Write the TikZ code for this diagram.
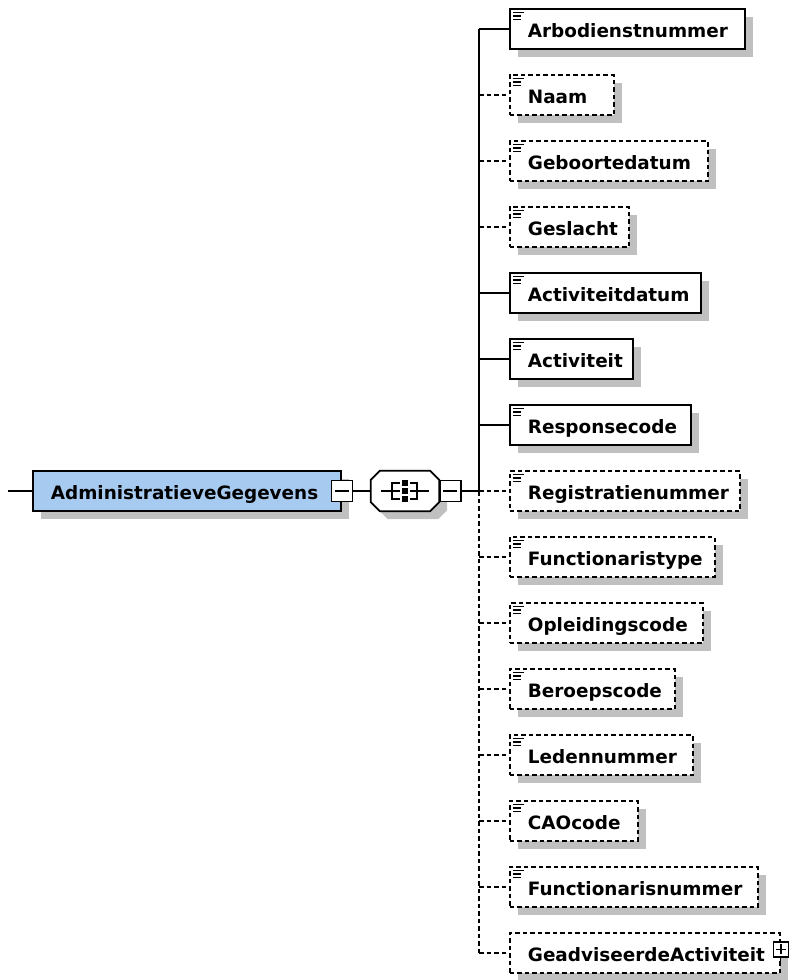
\documentclass[tikz,border=0pt]{standalone}
\usepackage{fontspec}
\setmainfont{DejaVu Sans}
\usetikzlibrary{shadows}
\definecolor{mainblue}{RGB}{166,202,240}
\definecolor{shadowgray}{RGB}{192,192,192}
\tikzset{%
    shd/.style={drop shadow={shadow xshift=8pt,shadow yshift=-8pt,fill=shadowgray,opacity=1}},
    elm/.style={draw,line width=1.8pt,fill=white,shd,anchor=west,minimum height=40pt,
        inner xsep=18pt,inner ysep=0pt,text width=#1pt,align=left,
        text height=18pt,text depth=2pt,font=\fontsize{18.4}{20}\selectfont\bfseries},
    ico/.style={path picture={
        \draw[solid,line width=1.4pt]
            ([xshift=3pt,yshift=-3.5pt]path picture bounding box.north west) -- ++(11pt,0pt)
            ([xshift=3pt,yshift=-7pt]path picture bounding box.north west) -- ++(8pt,0pt)
            ([xshift=3pt,yshift=-10.5pt]path picture bounding box.north west) -- ++(8pt,0pt);}},
    opt/.style={dash pattern=on 4.5pt off 3pt},
    wire/.style={line width=1.3pt},
    btn/.style={draw,solid,line width=1.5pt,fill=white,minimum size=21pt,inner sep=0pt},
    minus/.style={btn,path picture={
        \draw[line width=1.4pt] ([xshift=-7pt]path picture bounding box.center) -- ([xshift=7pt]path picture bounding box.center);}},
    plus/.style={btn,minimum size=15pt,path picture={
        \draw[line width=1.4pt] ([xshift=-5pt]path picture bounding box.center) -- ([xshift=5pt]path picture bounding box.center)
            ([yshift=-5pt]path picture bounding box.center) -- ([yshift=5pt]path picture bounding box.center);}}
}

\begin{document}
\begin{tikzpicture}[x=1pt,y=-1pt]
        \useasboundingbox (0,0) rectangle (793,980);

        % parent element
        \coordinate (in) at (8,491);
        \node[elm=272,fill=mainblue] (main) at (32,491) {AdministratieveGegevens};
        \node[minus] (mainbtn) at (main.east) {};

        % sequence compositor
        \node[minimum width=68pt,minimum height=40pt,inner sep=0pt] (seq) at (405,491) {};
        \draw[line width=1.8pt,fill=white,shd] ([xshift=9pt]seq.north west) -- ([xshift=-9pt]seq.north east)
            -- ([yshift=-9pt]seq.north east) -- ([yshift=9pt]seq.south east)
            -- ([xshift=-9pt]seq.south east) -- ([xshift=9pt]seq.south west)
            -- ([yshift=9pt]seq.south west) -- ([yshift=-9pt]seq.north west) -- cycle;
        \begin{scope}[shift={(seq.center)},line width=1.4pt]
            \draw (-24,0) -- (-13,0) (-5,-8) -- (-13,-8) -- (-13,8) -- (-5,8) (-13,0) -- (-5,0);
            \draw (24,0) -- (12,0) (5,-8) -- (12,-8) -- (12,8) -- (5,8) (12,0) -- (5,0);
            \fill (-3,-11) rectangle (3,-5);
            \fill (-3,-3) rectangle (3,3);
            \fill (-3,5) rectangle (3,11);
        \end{scope}
        \node[minus,anchor=west] (seqbtn) at (seq.east) {};
        \coordinate (fork) at (479,491);

        % children
        \node[elm=199,ico] (arbo) at (509,29) {Arbodienstnummer};
        \node[elm=68,ico,opt] (naam) at (509,95) {Naam};
        \node[elm=162,ico,opt] (gebdat) at (509,161) {Geboortedatum};
        \node[elm=83,ico,opt] (geslacht) at (509,227) {Geslacht};
        \node[elm=155,ico] (actdat) at (509,293) {Activiteitdatum};
        \node[elm=87,ico] (act) at (509,359) {Activiteit};
        \node[elm=145,ico] (resp) at (509,425) {Responsecode};
        \node[elm=194,ico,opt] (regnr) at (509,491) {Registratienummer};
        \node[elm=169,ico,opt] (functype) at (509,557) {Functionaristype};
        \node[elm=157,ico,opt] (opl) at (509,623) {Opleidingscode};
        \node[elm=129,ico,opt] (beroep) at (509,689) {Beroepscode};
        \node[elm=147,ico,opt] (leden) at (509,755) {Ledennummer};
        \node[elm=92,ico,opt] (cao) at (509,821) {CAOcode};
        \node[elm=212,ico,opt] (funcnr) at (509,887) {Functionarisnummer};
        \node[elm=234,opt] (geadv) at (509,953) {GeadviseerdeActiviteit};
        \node[plus,anchor=north] (geadvbtn) at ([yshift=12pt]geadv.east) {};

        \draw[wire] (in) -- (main);
        \draw[wire] (mainbtn) -- (seq);
        \draw[wire] (seqbtn) -- (fork);
        \draw[wire] (geadvbtn.south) -- ++(0,6);

        \draw[wire] (fork |- arbo.west) -- (fork);
        \draw[wire,opt] (fork) -- (fork |- geadv.west);

        \draw[wire] (fork |- arbo.west) -- (arbo.west);
        \draw[wire,opt] (fork |- naam.west) -- (naam.west);
        \draw[wire,opt] (fork |- gebdat.west) -- (gebdat.west);
        \draw[wire,opt] (fork |- geslacht.west) -- (geslacht.west);
        \draw[wire] (fork |- actdat.west) -- (actdat.west);
        \draw[wire] (fork |- act.west) -- (act.west);
        \draw[wire] (fork |- resp.west) -- (resp.west);
        \draw[wire,opt] (fork) -- (regnr.west);
        \draw[wire,opt] (fork |- functype.west) -- (functype.west);
        \draw[wire,opt] (fork |- opl.west) -- (opl.west);
        \draw[wire,opt] (fork |- beroep.west) -- (beroep.west);
        \draw[wire,opt] (fork |- leden.west) -- (leden.west);
        \draw[wire,opt] (fork |- cao.west) -- (cao.west);
        \draw[wire,opt] (fork |- funcnr.west) -- (funcnr.west);
        \draw[wire,opt] (fork |- geadv.west) -- (geadv.west);
    \end{tikzpicture}
\end{document}
